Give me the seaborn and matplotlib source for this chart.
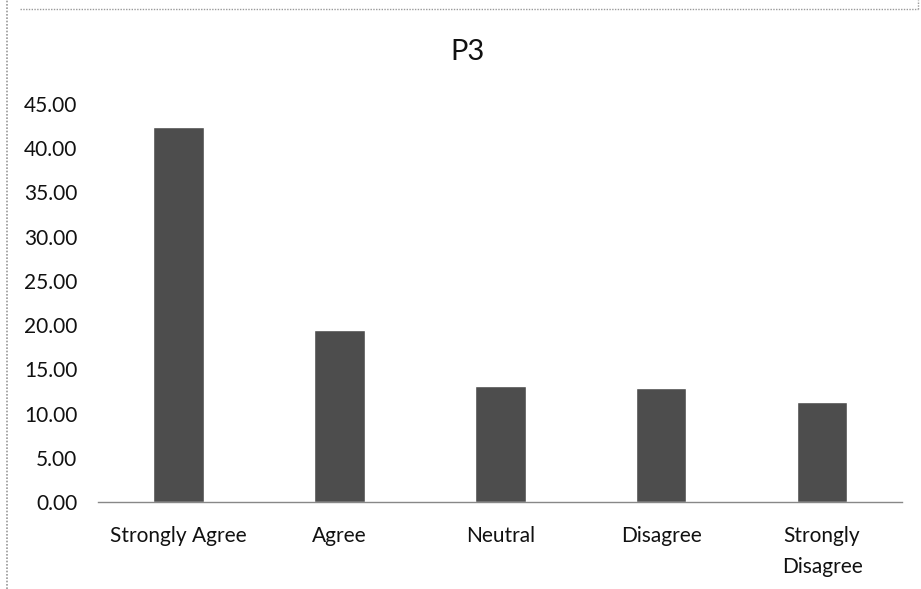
import matplotlib
matplotlib.use("Agg")
import matplotlib.pyplot as plt
import seaborn as sns
import pandas as pd
from matplotlib.lines import Line2D

categories = ["Strongly Agree", "Agree", "Neutral", "Disagree", "Strongly\nDisagree"]
values = [42.4, 19.5, 13.1, 12.9, 11.3]
yticks = [0, 5, 10, 15, 20, 25, 30, 35, 40, 45]
title = "P3"

sns.set_theme(style="white")
plt.rcParams['font.family'] = ['Lato', 'DejaVu Sans']

df = pd.DataFrame({"category": categories, "value": values})

fig = plt.figure(figsize=(9.21, 5.89), dpi=100)
ax = fig.add_axes([0.1064, 0.1477, 0.8735, 0.6757])
sns.barplot(data=df, x="category", y="value", color="#4d4d4d", width=0.315,
            saturation=1, ax=ax)

ax.set_ylim(0, 45)
ax.set_yticks(yticks)
ax.set_yticklabels([f"{v:.2f}" for v in yticks], fontsize=15, color="#111111")
ax.set_xlim(-0.5, len(categories) - 0.5)
ax.tick_params(axis="y", length=0, pad=15)
ax.tick_params(axis="x", length=0, pad=17, labelsize=15, labelcolor="#111111")
for lbl in ax.get_xticklabels():
    lbl.set_linespacing(1.7)
ax.set_xlabel("")
ax.set_ylabel("")
for s in ["top", "right", "left"]:
    ax.spines[s].set_visible(False)
ax.spines["bottom"].set_color("#888888")
ax.spines["bottom"].set_linestyle((0, (1, 1)))
ax.spines["bottom"].set_linewidth(1.0)
ax.grid(False)

fig.text(0.508, 0.912, title, ha="center", va="center", fontsize=21, color="#111111")

# dotted frame of the scanned chart
fig.add_artist(Line2D([0.008, 0.008], [0.0, 1.0], transform=fig.transFigure,
                      color="#999999", lw=1.2, ls=(0, (1, 1))))
fig.add_artist(Line2D([0.022, 0.997], [0.984, 0.984], transform=fig.transFigure,
                      color="#999999", lw=1.0, ls=(0, (1, 1))))
fig.add_artist(Line2D([0.997, 0.997], [0.984, 1.0], transform=fig.transFigure,
                      color="#999999", lw=1.0, ls=(0, (1, 1))))

fig.savefig("out.png", dpi=100)
